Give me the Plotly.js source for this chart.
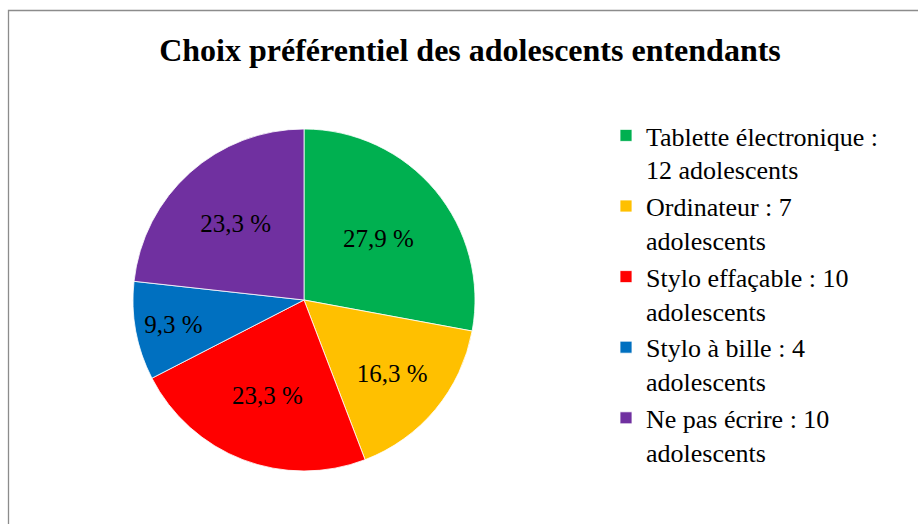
<!DOCTYPE html>
<html><head><meta charset="utf-8">
<script src="https://cdn.plot.ly/plotly-3.0.1.min.js"></script>
<style>html,body{margin:0;padding:0;background:#fff}</style>
</head><body>
<div id="chart" style="width:918px;height:524px"></div>
<script>
const categories = ["Tablette électronique", "Ordinateur", "Stylo effaçable", "Stylo à bille", "Ne pas écrire"];
const counts = [12, 7, 10, 4, 10];
const legendLabels = ["Tablette électronique :<br>12 adolescents", "Ordinateur : 7<br>adolescents", "Stylo effaçable : 10<br>adolescents", "Stylo à bille : 4<br>adolescents", "Ne pas écrire : 10<br>adolescents"];
const colors = ["#00B050", "#FFC000", "#FF0000", "#0070C0", "#7030A0"];

const total = counts.reduce((a, b) => a + b, 0);
const pctText = counts.map(v => (v / total * 100).toFixed(1).replace('.', ',') + ' %');

const W = 918, H = 524;
const cx = 304, cy = 300, R = 171;

const trace = {
  type: 'pie',
  labels: legendLabels,
  values: counts,
  text: pctText,
  textinfo: 'text',
  textposition: 'inside',
  insidetextorientation: 'horizontal',
  sort: false,
  direction: 'clockwise',
  rotation: 0,
  marker: { colors: colors, line: { color: '#ffffff', width: 0.8 } },
  textfont: { family: 'Liberation Serif, Times New Roman, serif', size: 25, color: '#000000' },
  hoverinfo: 'none',
  domain: { x: [(cx - R) / W, (cx + R) / W], y: [(H - cy - R) / H, (H - cy + R) / H] }
};

const layout = {
  width: W, height: H,
  margin: { l: 0, r: 0, t: 0, b: 0 },
  paper_bgcolor: '#ffffff',
  font: { family: 'Liberation Serif, Times New Roman, serif', color: '#000000' },
  title: {
    text: '<b>Choix préférentiel des adolescents entendants</b>',
    font: { family: 'Liberation Serif, Times New Roman, serif', size: 32, color: '#000000' },
    x: 470 / W, xref: 'container', xanchor: 'center',
    y: 1 - 50 / H, yref: 'container', yanchor: 'middle'
  },
  showlegend: true,
  legend: {
    x: 606 / W, xanchor: 'left',
    y: 1 - 112 / H, yanchor: 'top',
    valign: 'top',
    font: { family: 'Liberation Serif, Times New Roman, serif', size: 26, color: '#000000' },
    bgcolor: 'rgba(0,0,0,0)',
    traceorder: 'normal'
  },
  shapes: [{
    type: 'rect', xref: 'paper', yref: 'paper',
    x0: 8.5 / W, x1: 1.02, y0: -0.02, y1: 1 - 10.5 / H,
    line: { color: '#8c8c8c', width: 1.3 }, fillcolor: 'rgba(0,0,0,0)', layer: 'below'
  }]
};

Plotly.newPlot('chart', [trace], layout, { displayModeBar: false, staticPlot: true });
</script>
</body></html>
